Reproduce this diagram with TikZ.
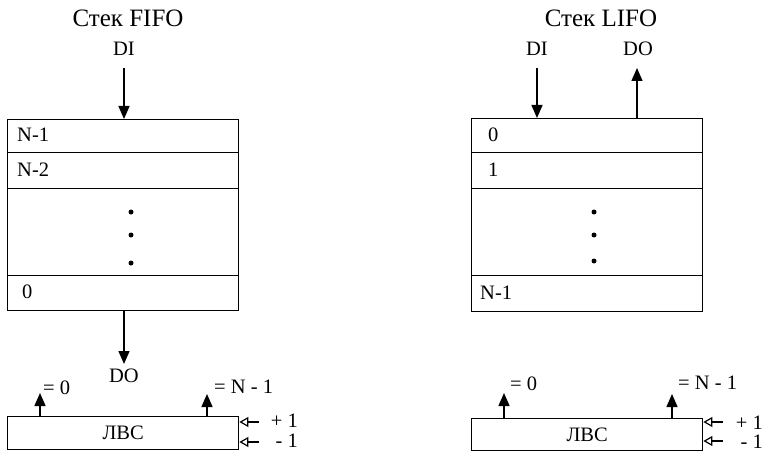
\documentclass[tikz,border=0pt]{standalone}
\usepackage{fontspec}
\setmainfont{Liberation Serif}
\usetikzlibrary{arrows.meta}
\begin{document}
\begin{tikzpicture}[x=1pt,y=-1pt,
  lbl/.style={font=\fontsize{20.5}{22}\selectfont, inner sep=0pt},
  ttl/.style={font=\fontsize{25}{28}\selectfont, inner sep=0pt},
  cell/.style={draw, line width=1.4pt, anchor=north west, minimum width=231pt, inner sep=0pt, font=\fontsize{20.5}{22}\selectfont},
  arr/.style={line width=1.4pt, -{Triangle[length=13pt,width=11pt]}},
  inarr/.style={line width=1.2pt, -{Triangle[open,length=9pt,width=10pt]}},
  dotc/.style={circle, fill, inner sep=0pt, minimum size=5pt}]
\useasboundingbox (0,0) rectangle (769,452);

% ---------- FIFO ----------
\node[ttl] (ft) at (128,18) {Стек FIFO};
\node[lbl] (fdi) at (124,49) {DI};
\node[cell, minimum height=33pt] (f1) at (7,119) {};
\node[cell, minimum height=36pt] (f2) at (7,152) {};
\node[cell, minimum height=87pt] (f3) at (7,188) {};
\node[cell, minimum height=35pt] (f4) at (7,275) {};
\node[lbl, anchor=west] (fl1) at (17,135) {N-1};
\node[lbl, anchor=west] (fl2) at (17,170) {N-2};
\node[lbl, anchor=west] (fl4) at (22,292) {0};
\node[dotc] (fd1) at (131,212) {};
\node[dotc] (fd2) at (131,235) {};
\node[dotc] (fd3) at (131,263) {};
\coordinate (fdis) at (124,68);
\draw[arr] (fdis) -- (fdis |- f1.north);
\coordinate (fdoe) at (124,364);
\draw[arr] (fdoe |- f4.south) -- (fdoe);
\node[lbl] (fdo) at (124,376) {DO};

\node[cell, minimum height=33pt] (fc) at (7,416) {ЛВС};
\coordinate (fz) at (40,393);
\coordinate (fn) at (207,394);
\draw[arr] (fz |- fc.north) -- (fz);
\draw[arr] (fn |- fc.north) -- (fn);
\node[lbl, anchor=west] (fzl) at (43,388) {= 0};
\node[lbl, anchor=west] (fnl) at (214,387) {= N - 1};
\coordinate (fi1) at (259,422);
\coordinate (fi2) at (259,442);
\draw[inarr] (fi1) -- (fi1 -| fc.east);
\draw[inarr] (fi2) -- (fi2 -| fc.east);
\node[lbl, anchor=east] (fp) at (298,421) {+ 1};
\node[lbl, anchor=east] (fm) at (298,441) {- 1};

% ---------- LIFO ----------
\node[ttl] (lt) at (601,18) {Стек LIFO};
\node[lbl] (ldi) at (537,49) {DI};
\node[lbl] (ldo) at (638,49) {DO};
\node[cell, minimum height=34pt] (l1) at (471,118) {};
\node[cell, minimum height=36pt] (l2) at (471,152) {};
\node[cell, minimum height=87pt] (l3) at (471,188) {};
\node[cell, minimum height=36pt] (l4) at (471,275) {};
\node[lbl, anchor=west] (ll1) at (488,135) {0};
\node[lbl, anchor=west] (ll2) at (488,170) {1};
\node[lbl, anchor=west] (ll4) at (480,293) {N-1};
\node[dotc] (ld1) at (594,212) {};
\node[dotc] (ld2) at (594,235) {};
\node[dotc] (ld3) at (594,261) {};
\coordinate (ldis) at (537,68);
\draw[arr] (ldis) -- (ldis |- l1.north);
\coordinate (ldoe) at (637,68);
\draw[arr] (ldoe |- l1.north) -- (ldoe);

\node[cell, minimum height=32pt] (lc) at (471,418) {ЛВС};
\coordinate (lz) at (504,393);
\coordinate (ln) at (672,394);
\draw[arr] (lz |- lc.north) -- (lz);
\draw[arr] (ln |- lc.north) -- (ln);
\node[lbl, anchor=west] (lzl) at (510,384) {= 0};
\node[lbl, anchor=west] (lnl) at (678,383) {= N - 1};
\coordinate (li1) at (723,422);
\coordinate (li2) at (723,441);
\draw[inarr] (li1) -- (li1 -| lc.east);
\draw[inarr] (li2) -- (li2 -| lc.east);
\node[lbl, anchor=east] (lp) at (763,423) {+ 1};
\node[lbl, anchor=east] (lm) at (763,442) {- 1};
\end{tikzpicture}
\end{document}
